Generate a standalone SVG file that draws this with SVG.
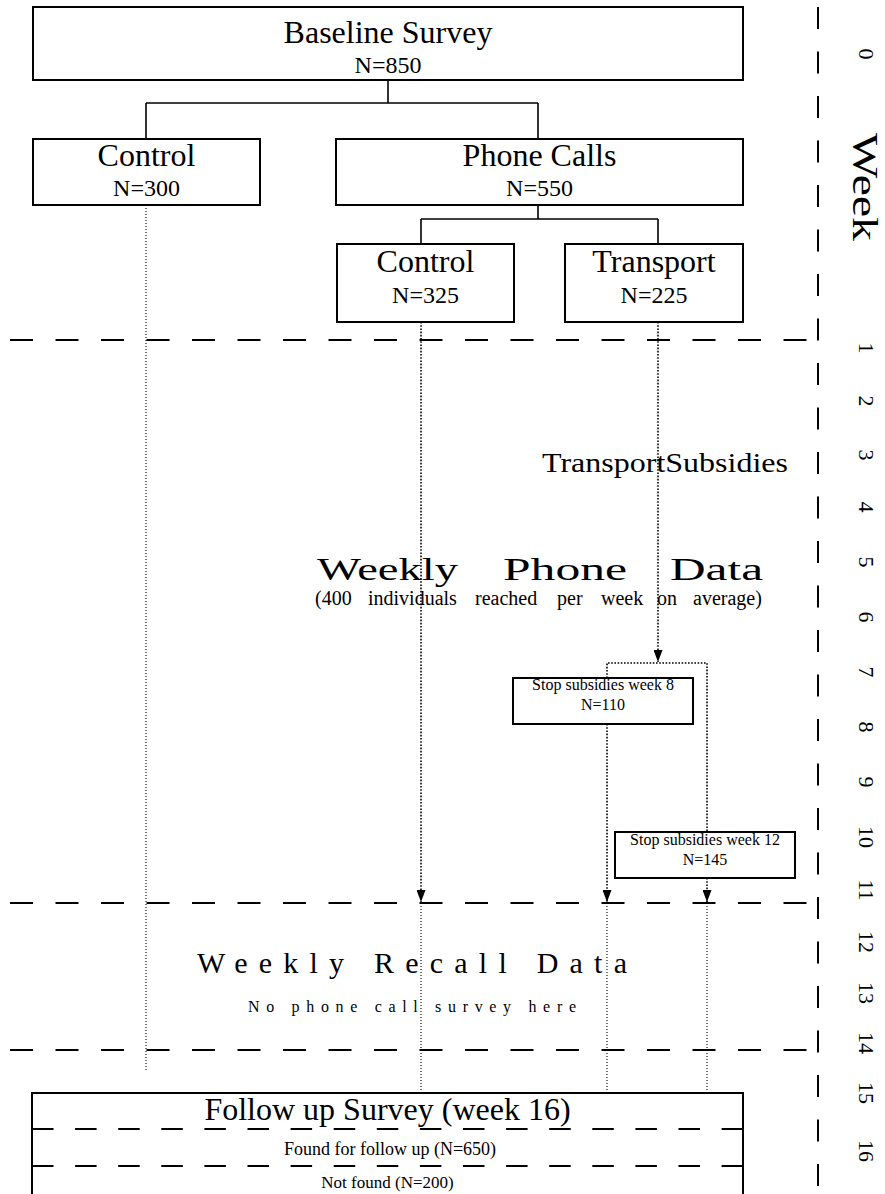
<svg xmlns="http://www.w3.org/2000/svg" width="885" height="1194" viewBox="0 0 885 1194">
  <defs>
    <style>
      text { font-family: "Liberation Serif", "Times New Roman", serif; fill: #000; }
      .box { fill: #fff; stroke: #000; stroke-width: 2; }
      .link { fill: none; stroke: #000; stroke-width: 1.6; }
      .dot { fill: none; stroke: #000; stroke-width: 1.6; stroke-dasharray: 1.6 1.6; }
      .dotthin { fill: none; stroke: #000; stroke-width: 1.1; stroke-dasharray: 1.1 1.9; }
      .phase { fill: none; stroke: #000; stroke-width: 2; stroke-dasharray: 23 22.5; }
      .split { fill: none; stroke: #000; stroke-width: 2; stroke-dasharray: 21.5 21.6; }
      .axis { fill: none; stroke: #000; stroke-width: 2; stroke-dasharray: 22 22.5; }
      .title { font-size: 32px; text-anchor: middle; }
      .count { font-size: 24px; text-anchor: middle; }
      .small { font-size: 16px; text-anchor: middle; }
      .week { font-size: 22px; text-anchor: middle; }
    </style>
    <marker id="arrow" markerUnits="userSpaceOnUse" markerWidth="12" markerHeight="9" viewBox="0 0 12 9" refX="12" refY="4.5" orient="auto">
      <path d="M0,0 L12,4.5 L0,9 z" fill="#000"/>
    </marker>
  </defs>

  <rect width="885" height="1194" fill="#fff"/>

  <!-- period separators and week axis -->
  <g id="timeline">
    <line class="phase" x1="10" y1="340" x2="808" y2="340"/>
    <line class="phase" x1="10" y1="903" x2="808" y2="903"/>
    <line class="phase" x1="10" y1="1050" x2="808" y2="1050"/>
    <line class="axis" x1="818" y1="7" x2="818" y2="1194"/>
    <text transform="translate(853,187) rotate(90)" font-size="35" text-anchor="middle" textLength="108" lengthAdjust="spacingAndGlyphs">Week</text>
    <text class="week" transform="translate(859,54) rotate(90)">0</text>
    <text class="week" transform="translate(859,348) rotate(90)">1</text>
    <text class="week" transform="translate(859,401) rotate(90)">2</text>
    <text class="week" transform="translate(859,455) rotate(90)">3</text>
    <text class="week" transform="translate(859,507) rotate(90)">4</text>
    <text class="week" transform="translate(859,562) rotate(90)">5</text>
    <text class="week" transform="translate(859,617) rotate(90)">6</text>
    <text class="week" transform="translate(859,672) rotate(90)">7</text>
    <text class="week" transform="translate(859,727) rotate(90)">8</text>
    <text class="week" transform="translate(859,782) rotate(90)">9</text>
    <text class="week" transform="translate(859,837) rotate(90)">10</text>
    <text class="week" transform="translate(859,890) rotate(90)">11</text>
    <text class="week" transform="translate(859,942) rotate(90)">12</text>
    <text class="week" transform="translate(859,993) rotate(90)">13</text>
    <text class="week" transform="translate(859,1043) rotate(90)">14</text>
    <text class="week" transform="translate(859,1093) rotate(90)">15</text>
    <text class="week" transform="translate(859,1151) rotate(90)">16</text>
  </g>

  <!-- connectors -->
  <g id="connectors">
    <path class="link" d="M388,80 V103 M146,103 H538 M146,103 V139 M538,103 V139"/>
    <path class="link" d="M538,205 V219 M421,219 H658 M421,219 V244 M658,219 V244"/>
    <path class="dotthin" d="M146,205 V1072"/>
    <path class="dot" d="M421,322 V902" marker-end="url(#arrow)"/>
    <path class="dotthin" d="M421,903 V1093"/>
    <path class="dot" d="M658,322 V662" marker-end="url(#arrow)"/>
    <path class="dot" d="M607,678 V663 H707 V832"/>
    <path class="dot" d="M607,724 V902" marker-end="url(#arrow)"/>
    <path class="dot" d="M707,878 V902" marker-end="url(#arrow)"/>
    <path class="dotthin" d="M607,903 V1093 M707,903 V1093"/>
  </g>

  <g id="baseline">
    <rect class="box" x="33" y="7" width="710" height="73"/>
    <text class="title" x="388" y="43">Baseline Survey</text>
    <text class="count" x="388" y="73">N=850</text>
  </g>

  <g id="control">
    <rect class="box" x="33" y="139" width="227" height="66"/>
    <text class="title" x="146.5" y="166">Control</text>
    <text class="count" x="146.5" y="196">N=300</text>
  </g>

  <g id="phone-calls">
    <rect class="box" x="336" y="139" width="407" height="66"/>
    <text class="title" x="539.5" y="166">Phone Calls</text>
    <text class="count" x="539.5" y="196">N=550</text>
  </g>

  <g id="phone-control">
    <rect class="box" x="337" y="244" width="177" height="78"/>
    <text class="title" x="425.5" y="272">Control</text>
    <text class="count" x="425.5" y="303">N=325</text>
  </g>

  <g id="transport">
    <rect class="box" x="565" y="244" width="178" height="78"/>
    <text class="title" x="654" y="272">Transport</text>
    <text class="count" x="654" y="303">N=225</text>
  </g>

  <!-- phase labels -->
  <g id="labels">
    <text x="542" y="472" font-size="28" textLength="246" lengthAdjust="spacingAndGlyphs">TransportSubsidies</text>
    <text font-size="32" y="580">
      <tspan x="317" textLength="141" lengthAdjust="spacingAndGlyphs">Weekly</tspan>
      <tspan x="503" textLength="124" lengthAdjust="spacingAndGlyphs">Phone</tspan>
      <tspan x="670" textLength="93" lengthAdjust="spacingAndGlyphs">Data</tspan>
    </text>
    <text font-size="20" y="605">
      <tspan x="315">(400</tspan>
      <tspan x="368">individuals</tspan>
      <tspan x="475">reached</tspan>
      <tspan x="557">per</tspan>
      <tspan x="601">week</tspan>
      <tspan x="657">on</tspan>
      <tspan x="693">average)</tspan>
    </text>
    <text x="197" y="973" font-size="30" textLength="430" lengthAdjust="spacing">Weekly Recall Data</text>
    <text x="248" y="1012" font-size="16" textLength="328" lengthAdjust="spacing">No phone call survey here</text>
  </g>

  <g id="stop-week-8">
    <rect class="box" x="513" y="678" width="180" height="46"/>
    <text class="small" x="603" y="690">Stop subsidies week 8</text>
    <text class="small" x="603" y="710">N=110</text>
  </g>

  <g id="stop-week-12">
    <rect class="box" x="615" y="832" width="180" height="46"/>
    <text class="small" x="705" y="845">Stop subsidies week 12</text>
    <text class="small" x="705" y="865">N=145</text>
  </g>

  <g id="follow-up">
    <rect class="box" x="32" y="1093" width="711" height="112"/>
    <text class="title" x="387.5" y="1120">Follow up Survey (week 16)</text>
    <line class="split" x1="32" y1="1129" x2="743" y2="1129"/>
    <line class="split" x1="32" y1="1166" x2="743" y2="1166"/>
    <text x="390" y="1155" font-size="18" text-anchor="middle">Found for follow up (N=650)</text>
    <text x="387.5" y="1188" font-size="17" text-anchor="middle">Not found (N=200)</text>
  </g>
</svg>
